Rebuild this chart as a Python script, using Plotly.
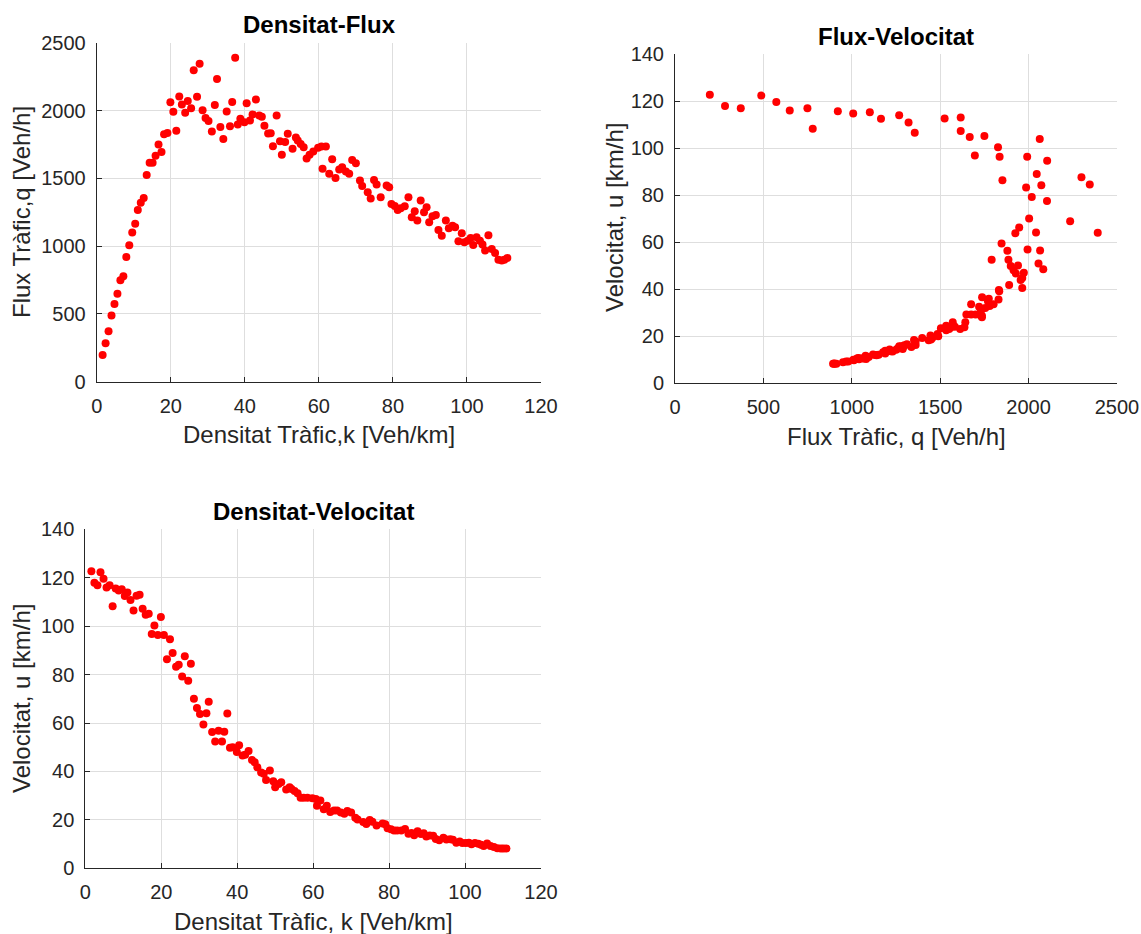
import plotly.graph_objects as go

# ---- data ----
density = [1.6, 2.4, 3.2, 4.0, 4.8, 5.6, 6.4, 7.2, 8.0, 8.8, 9.6, 10.4, 11.1, 11.9, 12.7, 13.5, 14.3, 15.1,
           15.9, 16.7, 17.5, 18.2, 19.1, 19.9, 20.7, 21.5, 22.3, 23.0, 23.9, 24.6, 25.5, 26.2, 27.1, 27.8,
           28.6, 29.4, 30.2, 31.1, 31.9, 32.5, 33.4, 34.2, 35.1, 36.0, 36.6, 37.4, 38.1, 38.8, 39.9, 40.5,
           41.4, 42.1, 43.0, 43.9, 44.6, 45.3, 46.3, 47.0, 47.6, 48.6, 49.5, 50.0, 50.9, 51.6, 52.9, 53.8,
           54.3, 55.1, 55.9, 56.7, 57.5, 58.5, 59.8, 60.7, 61.9, 61.0, 62.8, 63.6, 64.5, 65.5, 66.3, 67.3,
           68.2, 69.0, 70.0, 71.1, 71.7, 73.2, 74.0, 74.9, 75.6, 76.7, 78.3, 79.0, 79.6, 80.5, 81.3, 82.1,
           83.2, 84.2, 85.1, 85.9, 86.6, 87.5, 88.4, 89.1, 89.8, 90.7, 91.6, 92.3, 93.2, 94.3, 95.1, 96.1,
           96.8, 97.7, 98.6, 99.3, 100.2, 101.0, 101.7, 102.6, 103.5, 104.2, 104.9, 105.8, 106.7, 107.6,
           108.5, 109.4, 110.1, 110.9]

flow = [197, 283, 372, 488, 573, 649, 749, 779, 921, 1008, 1102, 1165, 1268, 1321, 1356, 1525, 1616, 1616,
        1667, 1750, 1696, 1827, 1836, 2063, 1992, 1852, 2105, 2046, 1986, 2072, 2018, 2299, 2104, 2346,
        2003, 1947, 1925, 1847, 2042, 2235, 1880, 1791, 1994, 1886, 2065, 2391, 1899, 1940, 1915, 2056,
        1928, 1973, 2083, 1964, 1955, 1890, 1832, 1834, 1737, 1964, 1775, 1675, 1770, 1830, 1720, 1802,
        1780, 1755, 1731, 1648, 1675, 1700, 1726, 1736, 1736, 1571, 1534, 1642, 1504, 1566, 1583, 1551,
        1534, 1637, 1613, 1485, 1445, 1398, 1352, 1489, 1455, 1361, 1448, 1435, 1312, 1297, 1268, 1280,
        1295, 1361, 1214, 1258, 1189, 1337, 1251, 1288, 1177, 1221, 1231, 1120, 1078, 1189, 1133, 1152,
        1140, 1037, 1096, 1029, 1041, 1061, 1009, 1066, 1041, 1012, 968, 1081, 980, 950,
        901, 894, 901, 913]

speed = [122.7, 117.9, 116.9, 122.3, 119.6, 116.0, 116.9, 108.2, 115.6, 114.7, 115.2, 112.5, 113.9, 110.8,
         106.5, 112.6, 113.0, 107.2, 104.7, 105.1, 96.8, 100.3, 96.3, 103.8, 96.3, 86.3, 94.6, 88.9, 83.2,
         84.1, 79.2, 87.6, 77.5, 84.5, 70.0, 66.2, 63.7, 59.4, 64.0, 68.8, 56.3, 52.4, 56.8, 52.4, 56.4,
         63.9, 49.8, 50.0, 48.0, 50.8, 46.6, 46.9, 48.4, 44.7, 43.8, 41.7, 39.6, 39.0, 36.5, 40.4, 35.9,
         33.5, 34.8, 35.5, 32.5, 33.5, 32.8, 31.9, 31.0, 29.1, 29.1, 29.1, 28.9, 28.6, 28.0, 25.8, 24.4,
         25.8, 23.3, 23.9, 23.9, 23.0, 22.5, 23.7, 23.0, 20.9, 20.2, 19.1, 18.3, 19.9, 19.2, 17.7, 18.5,
         18.2, 16.5, 16.1, 15.6, 15.6, 15.6, 16.2, 14.3, 14.6, 13.7, 15.3, 14.2, 14.5, 13.1, 13.5, 13.4,
         12.1, 11.6, 12.6, 11.9, 12.0, 11.8, 10.6, 11.1, 10.4, 10.4, 10.5, 9.9, 10.4, 10.1, 9.7, 9.2,
         10.2, 9.2, 8.8, 8.3, 8.2, 8.2, 8.2]

titles = ["Densitat-Flux", "Flux-Velocitat", "Densitat-Velocitat"]
x_labels = ["Densitat Tràfic,k [Veh/km]", "Flux Tràfic, q [Veh/h]", "Densitat Tràfic, k [Veh/km]"]
y_labels = ["Flux Tràfic,q [Veh/h]", "Velocitat, u [km/h]", "Velocitat, u [km/h]"]

W, H = 1141, 934
FONT = "Liberation Sans, Arial, Helvetica, sans-serif"
INK = "#262626"
GRID = "#dedede"


def px(x):
    return x / W


def py(y):
    return 1 - y / H


fig = go.Figure()
marker = dict(color="#ff0000", size=8, line=dict(width=0))
fig.add_trace(go.Scatter(x=density, y=flow, mode="markers", marker=marker, xaxis="x", yaxis="y",
                         showlegend=False, hoverinfo="x+y"))
fig.add_trace(go.Scatter(x=flow, y=speed, mode="markers", marker=marker, xaxis="x2", yaxis="y2",
                         showlegend=False, hoverinfo="x+y"))
fig.add_trace(go.Scatter(x=density, y=speed, mode="markers", marker=marker, xaxis="x3", yaxis="y3",
                         showlegend=False, hoverinfo="x+y"))

common = dict(showgrid=True, gridcolor=GRID, gridwidth=1, zeroline=False, showline=True,
              linecolor=INK, linewidth=1, ticks="inside", ticklen=5, tickcolor=INK,
              tickfont=dict(family=FONT, size=20, color=INK), mirror=False, automargin=False)
xcommon = dict(common, ticklabelstandoff=6)
ycommon = dict(common, ticklabelstandoff=6)

# axes boxes in pixels (left, right, top, bottom)
boxes = [(96.7, 541, 43, 381.7), (675, 1117, 54, 383), (85.3, 541, 529.3, 868.3)]

fig.update_layout(
    template="none",
    width=W, height=H, margin=dict(l=0, r=0, t=0, b=0, autoexpand=False),
    paper_bgcolor="white", plot_bgcolor="white",
    xaxis=dict(domain=[px(boxes[0][0]), px(boxes[0][1])], anchor="y", range=[0, 120], dtick=20, **xcommon),
    yaxis=dict(domain=[py(boxes[0][3]), py(boxes[0][2])], anchor="x", range=[0, 2500], dtick=500, **ycommon),
    xaxis2=dict(domain=[px(boxes[1][0]), px(boxes[1][1])], anchor="y2", range=[0, 2500], dtick=500, **xcommon),
    yaxis2=dict(domain=[py(boxes[1][3]), py(boxes[1][2])], anchor="x2", range=[0, 140], dtick=20, **ycommon),
    xaxis3=dict(domain=[px(boxes[2][0]), px(boxes[2][1])], anchor="y3", range=[0, 120], dtick=20, **xcommon),
    yaxis3=dict(domain=[py(boxes[2][3]), py(boxes[2][2])], anchor="x3", range=[0, 140], dtick=20, **ycommon),
)

title_pos = [(319, 25), (896, 37), (313, 511)]
xlab_pos = [(319, 435), (896, 436), (313, 921)]
ylab_pos = [(22, 212), (614, 218), (21, 699)]

ann = []
for i in range(3):
    ann.append(dict(text="<b>%s</b>" % titles[i], x=px(title_pos[i][0]), y=py(title_pos[i][1]),
                    xref="paper", yref="paper", showarrow=False, xanchor="center", yanchor="middle",
                    font=dict(family=FONT, size=24, color="#000000")))
    ann.append(dict(text=x_labels[i], x=px(xlab_pos[i][0]), y=py(xlab_pos[i][1]),
                    xref="paper", yref="paper", showarrow=False, xanchor="center", yanchor="middle",
                    font=dict(family=FONT, size=24, color=INK)))
    ann.append(dict(text=y_labels[i], x=px(ylab_pos[i][0]), y=py(ylab_pos[i][1]),
                    xref="paper", yref="paper", showarrow=False, xanchor="center", yanchor="middle",
                    textangle=-90, font=dict(family=FONT, size=24, color=INK)))
fig.update_layout(annotations=ann)

fig.write_html("out.html")
